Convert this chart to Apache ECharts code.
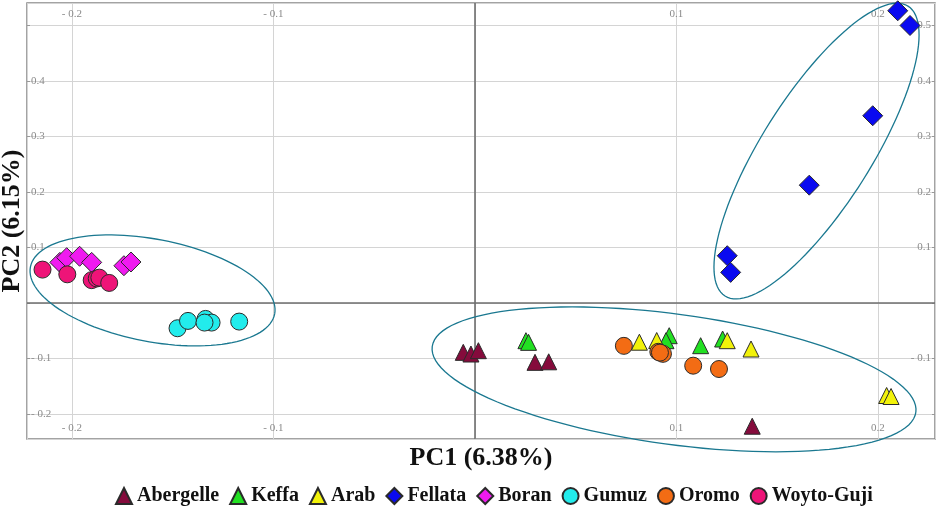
<!DOCTYPE html>
<html>
<head>
<meta charset="utf-8">
<script src="https://cdn.jsdelivr.net/npm/echarts@6/dist/echarts.min.js"></script>
<style>
  html, body { margin: 0; background: #fff; }
  #chart { width: 941px; height: 507px; }
</style>
</head>
<body>
<div id="chart"></div>
<script>
const groups = ['Abergelle', 'Keffa', 'Arab', 'Fellata', 'Boran', 'Gumuz', 'Oromo', 'Woyto-Guji']
const colors = ['#850b3c', '#22e022', '#f2f20a', '#0a0af0', '#f01af0', '#22ecec', '#f36c14', '#ee1478']
const symbols = ['triangle', 'triangle', 'triangle', 'diamond', 'diamond', 'circle', 'circle', 'circle']
const symbolSizes = [16, 16, 16, 20, 20, 17, 17, 17]

// PC1, PC2 per sample
const abergelle = [[-0.0058, -0.089], [-0.002, -0.092], [0.0017, -0.086], [0.0298, -0.107], [0.0366, -0.106], [0.1376, -0.222]]
const keffa = [[0.0253, -0.068], [0.0266, -0.071], [0.0964, -0.059], [0.0948, -0.068], [0.112, -0.077], [0.1229, -0.065]]
const arab = [[0.0816, -0.0707], [0.0902, -0.0677], [0.1252, -0.068], [0.137, -0.083], [0.2043, -0.1667], [0.2065, -0.1685]]
const fellata = [[0.2098, 0.526], [0.2159, 0.4995], [0.1974, 0.337], [0.1659, 0.212], [0.1252, 0.085], [0.1269, 0.055]]
const boran = [[-0.206, 0.073], [-0.2026, 0.0815], [-0.1962, 0.084], [-0.1902, 0.073], [-0.1742, 0.067], [-0.1707, 0.0737]]
const gumuz = [[-0.1476, -0.0456], [-0.1424, -0.0324], [-0.1337, -0.0288], [-0.1307, -0.0354], [-0.1342, -0.0354], [-0.117, -0.0336]]
const oromo = [[0.0739, -0.0773], [0.091, -0.088], [0.0933, -0.0917], [0.0918, -0.0895], [0.1083, -0.113], [0.1211, -0.119]]
const woytoGuji = [[-0.2146, 0.06], [-0.2023, 0.0515], [-0.1902, 0.041], [-0.1877, 0.044], [-0.1864, 0.0455], [-0.1815, 0.036]]
const groupData = [abergelle, keffa, arab, fellata, boran, gumuz, oromo, woytoGuji]

// cluster ellipses: centre x, centre y, first half-axis (dx, dy), second half-axis (dx, dy)
const ellipses = [
  [-0.160, 0.0225, 0.0606, -0.0423, -0.0048, -0.0905],
  [0.1695, 0.2734, 0.0454, 0.261, 0.0230, -0.0525],
  [0.0988, -0.1376, 0.1200, -0.0592, -0.0044, -0.1162],
]

const xRange = [-0.2223, 0.2283]
const yRange = [-0.245, 0.54]

const serif = 'Liberation Serif'

function tickText(v, hide) {
  const r = Math.round(v * 10) / 10
  if (Math.abs(v - r) > 1e-6 || Math.abs(r) < 1e-9) return ''
  if (hide && hide.some(h => Math.abs(h - r) < 1e-9)) return ''
  return r < 0 ? '- ' + Math.abs(r).toFixed(1) : r.toFixed(1)
}

const labelStyle = { inside: true, color: '#8a8a8a', fontFamily: serif, fontSize: 11, showMinLabel: false, showMaxLabel: false }
const titleStyle = { fontFamily: serif, fontWeight: 'bold', fontSize: 26, color: '#111' }

const chart = echarts.init(document.getElementById('chart'))

const scatterSeries = groups.map((name, i) => ({
  type: 'scatter',
  name,
  data: groupData[i],
  symbol: symbols[i],
  symbolSize: symbolSizes[i],
  z: 5,
  itemStyle: { color: colors[i], borderColor: '#2a2a2a', borderWidth: 1, opacity: 1 },
}))

scatterSeries[0].markLine = {
  silent: true,
  symbol: 'none',
  label: { show: false },
  lineStyle: { color: '#6e6e6e', width: 1.6, type: 'solid' },
  data: [{ xAxis: 0 }, { yAxis: 0 }],
  z: 2,
}

chart.setOption({
  animation: false,
  grid: {
    left: 27, right: 6, top: 3, bottom: 68,
    containLabel: false, outerBoundsMode: 'none',
    show: true, borderColor: '#858585', borderWidth: 1.5,
  },
  legend: {
    data: groups,
    top: 481,
    left: 110,
    itemWidth: 16,
    itemHeight: 16,
    itemGap: 10,
    textStyle: { fontFamily: serif, fontWeight: 'bold', fontSize: 20, color: '#111' },
  },
  xAxis: [
    {
      type: 'value', position: 'bottom', min: xRange[0], max: xRange[1],
      splitNumber: 5, minInterval: 0.1, maxInterval: 0.1,
      name: 'PC1 (6.38%)', nameLocation: 'middle', nameGap: 6, nameMoveOverlap: false, nameTextStyle: titleStyle,
      axisLine: { show: false, onZero: false }, axisTick: { show: false },
      axisLabel: { ...labelStyle, margin: 5, formatter: v => tickText(v) },
      splitLine: { show: true, lineStyle: { color: '#d4d4d4', width: 1 } },
    },
    {
      type: 'value', position: 'top', min: xRange[0], max: xRange[1],
      splitNumber: 5, minInterval: 0.1, maxInterval: 0.1,
      axisLine: { show: false, onZero: false }, axisTick: { show: false },
      axisLabel: { ...labelStyle, margin: 6, formatter: v => tickText(v) },
      splitLine: { show: false },
    },
  ],
  yAxis: [
    {
      type: 'value', position: 'left', min: yRange[0], max: yRange[1],
      splitNumber: 8, minInterval: 0.1, maxInterval: 0.1,
      name: 'PC2 (6.15%)', nameLocation: 'middle', nameGap: 2, nameMoveOverlap: false, nameTextStyle: titleStyle,
      axisLine: { show: false, onZero: false },
      axisTick: { show: true, inside: true, length: 3, lineStyle: { color: '#999' } },
      axisLabel: { ...labelStyle, margin: 4, formatter: v => tickText(v, [0.5]) },
      splitLine: { show: true, lineStyle: { color: '#d4d4d4', width: 1 } },
    },
    {
      type: 'value', position: 'right', min: yRange[0], max: yRange[1],
      splitNumber: 8, minInterval: 0.1, maxInterval: 0.1,
      axisLine: { show: false, onZero: false },
      axisTick: { show: true, inside: true, length: 3, lineStyle: { color: '#999' } },
      axisLabel: { ...labelStyle, margin: 4, formatter: v => tickText(v, [-0.2]) },
      splitLine: { show: false },
    },
  ],
  series: [
    {
      type: 'custom',
      name: 'clusters',
      data: ellipses,
      encode: { x: 0, y: 1 },
      clip: false,
      silent: true,
      z: 3,
      renderItem(params, api) {
        const v = [0, 1, 2, 3, 4, 5].map(i => api.value(i))
        const points = []
        for (let k = 0; k <= 120; k++) {
          const t = k / 120 * Math.PI * 2
          points.push(api.coord([
            v[0] + v[2] * Math.cos(t) + v[4] * Math.sin(t),
            v[1] + v[3] * Math.cos(t) + v[5] * Math.sin(t),
          ]))
        }
        return {
          type: 'polyline',
          shape: { points },
          style: { fill: 'none', stroke: '#1a7890', lineWidth: 1.3 },
        }
      },
    },
    ...scatterSeries,
  ],
})
</script>
</body>
</html>
